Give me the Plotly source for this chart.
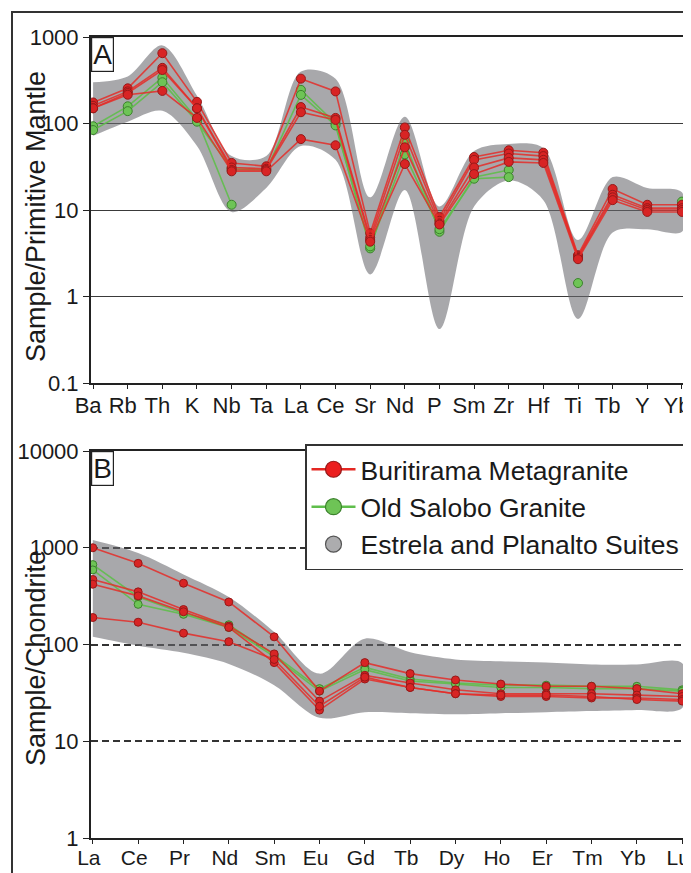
import plotly.graph_objects as go

# ---------------- data ----------------
cats_A = ["Ba", "Rb", "Th", "K", "Nb", "Ta", "La", "Ce", "Sr", "Nd", "P", "Sm", "Zr", "Hf", "Ti", "Tb", "Y", "Yb"]

# Buritirama Metagranite (primitive-mantle normalised)
bm1_A = [175, 255, 650, 178, 35, 32, 330, 235, 5.4, 90, 8.3, 41, 49, 46, 3.0, 17.5, 11.5, 11.5]
bm2_A = [160, 235, 440, 150, 31, 30, 155, 116, 4.8, 74, 7.5, 38, 45, 42, 2.9, 15, 10.5, 10.5]
bm3_A = [150, 225, 415, 150, 29, 29, 135, 110, 4.5, 53, 7.0, 31, 40, 38, 2.8, 14, 10, 10]
bm4_A = [150, 215, 238, 116, 28, 28, 66, 56, 4.3, 34, 6.8, 26, 36, 35, 2.7, 13, 9.5, 9.5]
# Old Salobo Granite
os1_A = [93, 158, 340, 112, 11.5, None, 245, 100, 3.6, 62, 5.6, 24, 29, None, 1.43, None, None, 12.5]
os2_A = [84, 139, 300, 105, 30, 29, 214, 95, 3.8, 44, 6.0, 23, 24, None, None, None, None, 10]
# Estrela and Planalto Suites field
field_up_A = [300, 350, 800, 210, 42, 42, 400, 330, 14, 120, 11, 48, 58, 52, 4.5, 24, 18, 16]
field_lo_A = [72, 105, 140, 55, 9.5, 18, 55, 38, 1.8, 17, 0.42, 11, 22, 13, 0.55, 5.5, 6, 5.6]

cats_B = ["La", "Ce", "Pr", "Nd", "Sm", "Eu", "Gd", "Tb", "Dy", "Ho", "Er", "Tm", "Yb", "Lu"]
bm1_B = [1000, 690, 430, 275, 120, 33, 65, 50, 43, 39, 37, 37, 35, 31]
bm2_B = [470, 350, 230, 155, 80, 26, 48, 40, 34, 31, 31, 31, 30, 29]
bm3_B = [420, 318, 218, 150, 65, 21, 44, 36, 31, 29, 29, 28, 28, 27]
bm4_B = [190, 170, 131, 107, 70, 23, 46, 36, 31, 30, 30, 29, 27, 26]
os1_B = [670, 310, 210, 160, 78, 35, 58, 44, 40, 38, 38, 37, 37, 34]
os2_B = [590, 260, 205, 150, 75, 33, 55, 42, 39, 36, 36, 35, 35, 33]
field_up_B = [1200, 880, 530, 310, 135, 50, 115, 83, 70, 67, 65, 62, 62, 64]
field_lo_B = [120, 97, 82, 63, 38, 17.5, 20, 19.5, 19, 19.5, 20, 20.5, 21, 22]

ticks_A = [0.1, 1, 10, 100, 1000]
ticktext_A = ["0.1", "1", "10", "100", "1000"]
ticks_B = [1, 10, 100, 1000, 10000]
ticktext_B = ["1", "10", "100", "1000", "10000"]

# ---------------- layout helpers ----------------
OFF = 8                      # page body margin of the browser
W, H = 691 - OFF, 873 - OFF
ml = 91 - OFF                # plot left edge at page x = 91
mt = 37 - OFF                # plot top at page y = 37
mr = W - (684 - OFF)         # plot right edge at page x = 684
mb = H - (838 - OFF)         # plot bottom at page y = 838
pw, ph = W - ml - mr, H - mt - mb


def fx(p):
    """page x pixel -> paper fraction"""
    return (p - OFF - ml) / pw


def fy(p):
    """page y pixel -> paper fraction"""
    return (H - mb - (p - OFF)) / ph


FONT = "Liberation Sans, Arial, sans-serif"
RED_LINE = "rgba(228,45,40,0.85)"
RED_FILL = "rgb(216,36,36)"
RED_EDGE = "rgb(150,25,25)"
GRN_LINE = "rgba(95,190,75,0.9)"
GRN_FILL = "rgb(110,196,86)"
GRN_EDGE = "rgb(60,130,45)"
FIELD = "rgba(105,105,110,0.58)"

fig = go.Figure()


def add_field(cats, up, lo, xa, ya):
    fig.add_trace(go.Scatter(
        x=cats + cats[::-1], y=up + lo[::-1], mode="lines", fill="toself",
        fillcolor=FIELD, line=dict(width=0, shape="spline", smoothing=0.9),
        hoverinfo="skip", showlegend=False, xaxis=xa, yaxis=ya))


def add_sample(cats, vals, line_c, fill_c, edge_c, msize, xa, ya):
    fig.add_trace(go.Scatter(
        x=cats, y=vals, mode="lines+markers",
        line=dict(color=line_c, width=1.6),
        marker=dict(size=msize, color=fill_c, line=dict(color=edge_c, width=1)),
        connectgaps=False, showlegend=False, xaxis=xa, yaxis=ya))


add_field(cats_A, field_up_A, field_lo_A, "x", "y")
for s in (os1_A, os2_A):
    add_sample(cats_A, s, GRN_LINE, GRN_FILL, GRN_EDGE, 9, "x", "y")
for s in (bm1_A, bm2_A, bm3_A, bm4_A):
    add_sample(cats_A, s, RED_LINE, RED_FILL, RED_EDGE, 9, "x", "y")

add_field(cats_B, field_up_B, field_lo_B, "x2", "y2")
for s in (os1_B, os2_B):
    add_sample(cats_B, s, GRN_LINE, GRN_FILL, GRN_EDGE, 8, "x2", "y2")
for s in (bm1_B, bm2_B, bm3_B, bm4_B):
    add_sample(cats_B, s, RED_LINE, RED_FILL, RED_EDGE, 8, "x2", "y2")

# legend-only entries
fig.add_trace(go.Scatter(x=[None], y=[None], mode="lines+markers", name="Buritirama Metagranite",
                         line=dict(color="rgb(228,40,35)", width=2.5),
                         marker=dict(size=16, color="rgb(235,30,30)", line=dict(color=RED_EDGE, width=1.2)),
                         legendgroup="a", xaxis="x2", yaxis="y2"))
fig.add_trace(go.Scatter(x=[None], y=[None], mode="lines+markers", name="Old Salobo Granite",
                         line=dict(color="rgb(95,190,75)", width=2.5),
                         marker=dict(size=16, color=GRN_FILL, line=dict(color=GRN_EDGE, width=1.2)),
                         legendgroup="b", xaxis="x2", yaxis="y2"))
fig.add_trace(go.Scatter(x=[None], y=[None], mode="markers", name="Estrela and Planalto Suites",
                         marker=dict(size=26, symbol="circle", color="rgb(172,172,174)",
                                     line=dict(color="#555", width=1.2)),
                         legendgroup="c", xaxis="x2", yaxis="y2"))

axis_common = dict(showline=True, mirror=True, linecolor="#222", linewidth=2,
                   ticks="outside", tickcolor="#222", zeroline=False)
ytickfont = dict(family=FONT, size=22, color="#1a1a1a")

yA = [fy(383), 1.0]
yB = [0.0, fy(451)]

fig.update_layout(
    width=W, height=H, margin=dict(l=ml, r=mr, t=mt, b=mb, autoexpand=False),
    paper_bgcolor="white", plot_bgcolor="white",
    font=dict(family=FONT, color="#1a1a1a"),
    xaxis=dict(domain=[0, 1], anchor="y", type="category", range=[-0.06, 17.06],
               ticklen=4, showgrid=False, ticklabelstandoff=-2, ticklabelshift=-5,
               tickfont=dict(family=FONT, size=22, color="#1a1a1a"), **axis_common),
    yaxis=dict(domain=yA, anchor="x", type="log", range=[-1, 3],
               tickvals=ticks_A, ticktext=ticktext_A, ticklen=6, tickfont=ytickfont,
               showgrid=True, gridcolor="#3a3a3a", gridwidth=1.4, **axis_common),
    xaxis2=dict(domain=[0, 1], anchor="y2", type="category", range=[-0.04, 13.04],
                ticklen=4, showgrid=False, ticklabelstandoff=-4, ticklabelshift=-4,
                tickfont=dict(family=FONT, size=21, color="#1a1a1a"), **axis_common),
    yaxis2=dict(domain=yB, anchor="x2", type="log", range=[0, 4],
                tickvals=ticks_B, ticktext=ticktext_B, ticklen=6, tickfont=ytickfont,
                showgrid=True, gridcolor="#333", gridwidth=1.6, griddash="7px,4px", **axis_common),
    legend=dict(x=fx(305), y=fy(444), xanchor="left", yanchor="top",
                bgcolor="white", bordercolor="#333", borderwidth=1.5,
                font=dict(family=FONT, size=26.5, color="#1a1a1a"),
                itemwidth=44, tracegroupgap=0, traceorder="grouped", itemsizing="trace"),
    shapes=[dict(type="rect", xref="paper", yref="paper",
                 x0=fx(12), x1=fx(710), y0=fy(890), y1=fy(12),
                 line=dict(color="#333", width=2), layer="below")],
    annotations=[
        dict(text="A", xref="paper", yref="paper", x=0, y=1, xanchor="left", yanchor="top",
             showarrow=False, font=dict(size=28, family=FONT, color="#1a1a1a"),
             bordercolor="#222", borderwidth=1.2, borderpad=1, bgcolor="white"),
        dict(text="B", xref="paper", yref="paper", x=0, y=fy(451), xanchor="left", yanchor="top",
             showarrow=False, font=dict(size=28, family=FONT, color="#1a1a1a"),
             bordercolor="#222", borderwidth=1.2, borderpad=1, bgcolor="white"),
        dict(text="Sample/Primitive Mantle", xref="paper", yref="paper", x=fx(36), y=fy(217),
             xanchor="center", yanchor="middle", textangle=-90, showarrow=False,
             font=dict(size=27, family=FONT, color="#1a1a1a")),
        dict(text="Sample/Chondrite", xref="paper", yref="paper", x=fx(36), y=fy(658),
             xanchor="center", yanchor="middle", textangle=-90, showarrow=False,
             font=dict(size=27, family=FONT, color="#1a1a1a")),
    ],
)

fig.write_html("out.html")
